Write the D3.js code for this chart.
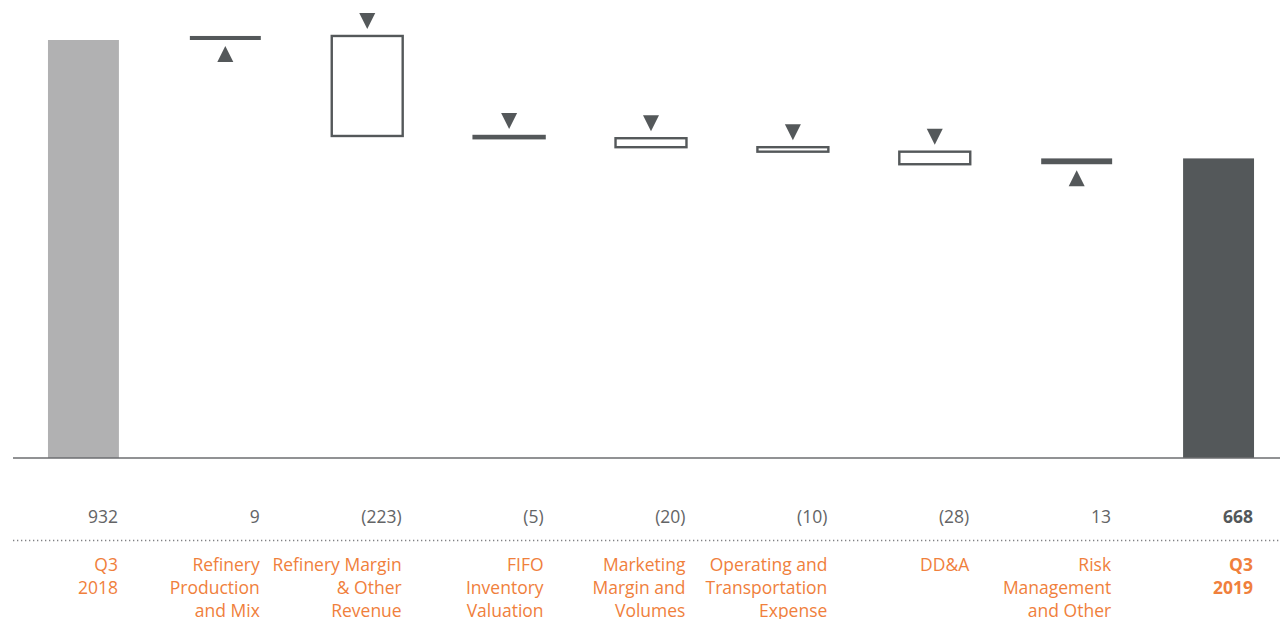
<!DOCTYPE html>
<html>
<head>
<meta charset="utf-8">
<script src="https://cdn.jsdelivr.net/npm/d3@7"></script>
<style>
  html, body { margin: 0; padding: 0; background: #fff; }
  svg { display: block; font-family: "Open Sans", "Noto Sans", sans-serif; }
</style>
</head>
<body>
<div id="chart"></div>
<script>
// bridge values, $ millions
const startValue = 932;
const endValue = 668;
const changes = [9, -223, -5, -20, -10, -28, 13];
const valueLabels = ["932", "9", "(223)", "(5)", "(20)", "(10)", "(28)", "13", "668"];
const categoryLines = [
    ["Q3", "2018"],
    ["Refinery", "Production", "and Mix"],
    ["Refinery Margin", "& Other", "Revenue"],
    ["FIFO", "Inventory", "Valuation"],
    ["Marketing", "Margin and", "Volumes"],
    ["Operating and", "Transportation", "Expense"],
    ["DD&A"],
    ["Risk", "Management", "and Other"],
    ["Q3", "2019"]
];

const width = 1280, height = 619;
const baseY = 458;
const dark = "#54585a", light = "#b1b1b2", orange = "#f0803c";

// build step records
let steps = [];
let running = startValue;
steps.push({i: 0, kind: "total", from: 0, to: startValue});
changes.forEach((c, k) => {
    steps.push({i: k + 1, kind: c >= 0 ? "up" : "down", from: running, to: running + c});
    running += c;
});
steps.push({i: 8, kind: "total", from: 0, to: endValue});

const x = d3.scaleBand()
    .domain(d3.range(9))
    .range([12.5, 1289.5])
    .paddingInner(0.5)
    .paddingOuter(0.25);

const y = d3.scaleLinear()
    .domain([0, startValue])
    .range([baseY, 40]);

const svg = d3.select("#chart")
    .append("svg")
    .attr("width", width)
    .attr("height", height)
    .attr("viewBox", `0 0 ${width} ${height}`);

const bars = svg.append("g");

// totals
bars.selectAll("rect.total")
    .data(steps.filter(d => d.kind === "total"))
    .enter().append("rect")
    .attr("class", "total")
    .attr("x", d => x(d.i))
    .attr("width", x.bandwidth())
    .attr("y", d => y(d.to))
    .attr("height", d => y(0) - y(d.to))
    .attr("fill", d => d.i === 0 ? light : dark);

// increases: filled
bars.selectAll("rect.up")
    .data(steps.filter(d => d.kind === "up"))
    .enter().append("rect")
    .attr("class", "up")
    .attr("x", d => x(d.i))
    .attr("width", x.bandwidth())
    .attr("y", d => y(d.to))
    .attr("height", d => y(d.from) - y(d.to))
    .attr("fill", dark);

// decreases: outlined (stroke centred on the edge, tiny ones close up)
bars.selectAll("rect.down")
    .data(steps.filter(d => d.kind === "down"))
    .enter().append("rect")
    .attr("class", "down")
    .attr("x", d => x(d.i))
    .attr("width", x.bandwidth())
    .attr("y", d => y(d.from))
    .attr("height", d => y(d.to) - y(d.from))
    .attr("fill", "#fff")
    .attr("stroke", dark)
    .attr("stroke-width", 2.4);

// arrows
const tri = 16;
bars.selectAll("path.arrow")
    .data(steps.filter(d => d.kind !== "total"))
    .enter().append("path")
    .attr("class", "arrow")
    .attr("fill", dark)
    .attr("d", d => {
        const cx = x(d.i) + x.bandwidth() / 2;
        if (d.kind === "up") {
            const tip = y(d.from) + 6;
            return `M${cx},${tip}L${cx + tri / 2},${tip + tri}L${cx - tri / 2},${tip + tri}Z`;
        }
        const tip = y(d.from) - 7;
        return `M${cx},${tip}L${cx + tri / 2},${tip - tri}L${cx - tri / 2},${tip - tri}Z`;
    });

// baseline
svg.append("line")
    .attr("x1", 13).attr("x2", width)
    .attr("y1", baseY).attr("y2", baseY)
    .attr("stroke", "#6d6e71")
    .attr("stroke-width", 1.5);

// values
svg.append("g").selectAll("text")
    .data(valueLabels)
    .enter().append("text")
    .attr("x", (d, i) => x(i) + x.bandwidth() - 1)
    .attr("y", 523)
    .attr("text-anchor", "end")
    .attr("font-size", 17.5)
    .attr("font-weight", (d, i) => i === 8 ? 700 : 400)
    .attr("fill", (d, i) => i === 8 ? "#54585a" : "#636466")
    .text(d => d);

// dotted separator
svg.append("line")
    .attr("x1", 13).attr("x2", width)
    .attr("y1", 540.5).attr("y2", 540.5)
    .attr("stroke", "#808184")
    .attr("stroke-width", 1.3)
    .attr("stroke-dasharray", "1.3,2.7");

// category labels
const cats = svg.append("g").selectAll("text")
    .data(categoryLines)
    .enter().append("text")
    .attr("text-anchor", "end")
    .attr("font-size", 17.5)
    .attr("font-weight", (d, i) => i === 8 ? 700 : 400)
    .attr("fill", orange);

cats.selectAll("tspan")
    .data((d, i) => d.map((t, j) => ({t, j, i})))
    .enter().append("tspan")
    .attr("x", d => x(d.i) + x.bandwidth() - 1)
    .attr("y", d => 570.5 + d.j * 23.2)
    .text(d => d.t);
</script>
</body>
</html>
